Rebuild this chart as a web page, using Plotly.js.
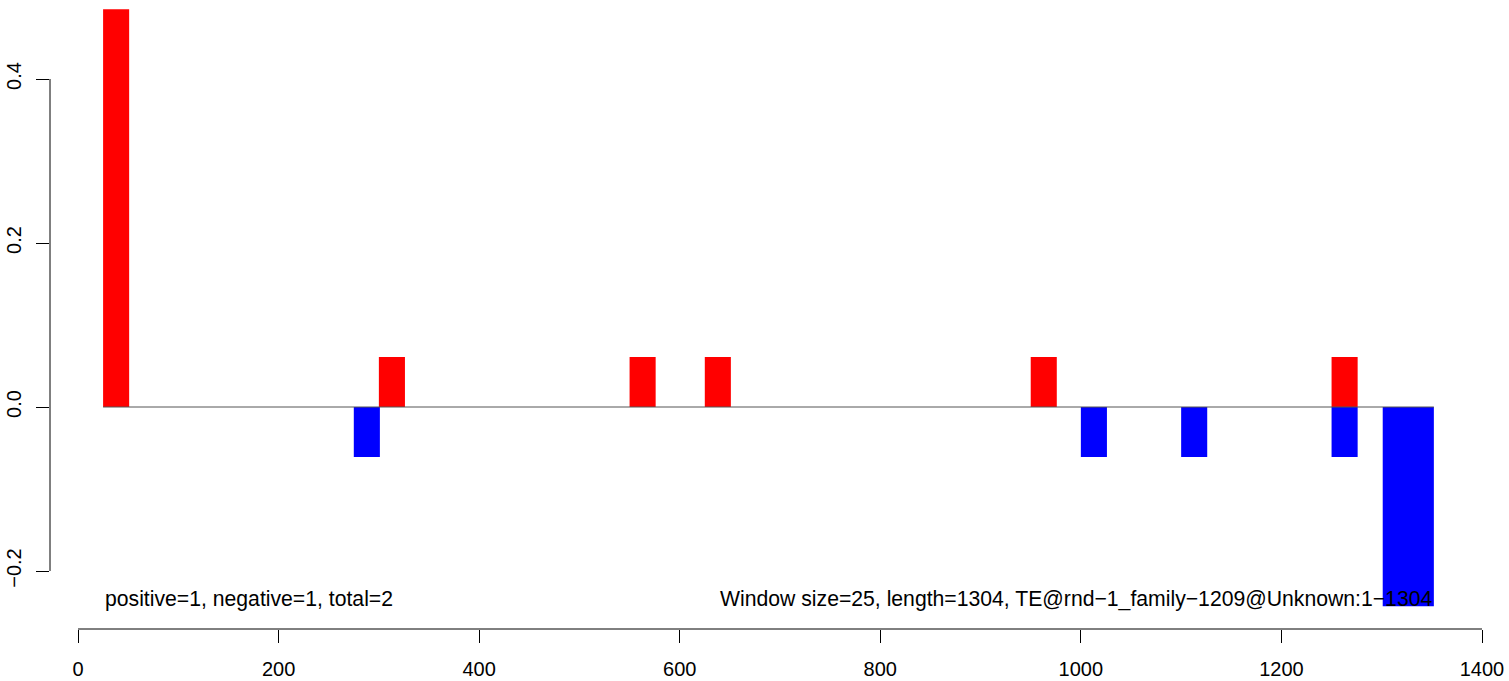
<!DOCTYPE html>
<html><head><meta charset="utf-8">
<script src="https://cdn.plot.ly/plotly-3.0.1.min.js"></script>
<style>body{margin:0;background:#fff}#chart{width:1509px;height:681px}</style>
</head><body><div id="chart"></div>
<script>
// window starts, drawn widths and values
const posStart = [25, 300, 550, 625, 950, 1250];
const posWidth = [26, 26, 26, 26, 26, 26];
const posValue = [0.485, 0.061, 0.061, 0.061, 0.061, 0.061];
const negStart = [275, 1000, 1100, 1250, 1301];
const negWidth = [26, 26, 26, 26, 51];
const negValue = [-0.061, -0.061, -0.061, -0.061, -0.243];
const baseLineX = [25, 1352];
const baseLineY = [0, 0];
const xTicks = [0, 200, 400, 600, 800, 1000, 1200, 1400];
const yTicks = [-0.2, 0, 0.2, 0.4];
const yTickText = ['\u22120.2', '0.0', '0.2', '0.4'];
const leftNote = 'positive=1, negative=1, total=2';
const rightNote = 'Window size=25, length=1304, TE@rnd\u22121_family\u22121209@Unknown:1\u22121304';

const center = (s, w) => s.map((v, i) => v + w[i] / 2);
const tickFont = {family: 'Liberation Sans, Arial, sans-serif', size: 20, color: '#000'};
const noteFont = {family: 'Liberation Sans, Arial, sans-serif', size: 21.2, color: '#000'};

const traces = [
  {type: 'scatter', mode: 'lines', x: baseLineX, y: baseLineY, line: {color: '#555555', width: 1}, hoverinfo: 'skip'},
  {type: 'bar', x: center(posStart, posWidth), y: posValue, width: posWidth, marker: {color: '#ff0000', line: {width: 0}}},
  {type: 'bar', x: center(negStart, negWidth), y: negValue, width: negWidth, marker: {color: '#0000ff', line: {width: 0}}}
];

const layout = {
  width: 1509, height: 681,
  margin: {l: 50, r: 20, t: 5, b: 52},
  paper_bgcolor: '#fff', plot_bgcolor: '#fff',
  showlegend: false, barmode: 'overlay', font: tickFont,
  xaxis: {range: [-27.94, 1406.98], tickvals: xTicks, ticktext: xTicks.map(String),
    ticks: 'outside', ticklen: 13, tickwidth: 1, tickcolor: '#000', showline: false,
    showgrid: false, zeroline: false, tickfont: tickFont, ticklabelstandoff: 9},
  yaxis: {range: [-0.27073, 0.49024], tickvals: yTicks, ticktext: yTickText,
    ticks: 'outside', ticklen: 13, tickwidth: 1, tickcolor: '#000', showline: false,
    showgrid: false, zeroline: false, tickangle: -90, tickfont: tickFont, ticklabelstandoff: 7},
  shapes: [
    {type: 'line', xref: 'x', yref: 'paper', x0: 0, x1: 1400, y0: 0, y1: 0, line: {color: '#000', width: 1}},
    {type: 'line', xref: 'paper', yref: 'y', x0: 0, x1: 0, y0: -0.2, y1: 0.4, line: {color: '#000', width: 1}}
  ],
  annotations: [
    {x: 25, y: -0.234, xref: 'x', yref: 'y', text: leftNote, showarrow: false, xanchor: 'left', yanchor: 'middle', font: noteFont},
    {x: 1352, y: -0.234, xref: 'x', yref: 'y', text: rightNote, showarrow: false, xanchor: 'right', yanchor: 'middle', font: noteFont}
  ]
};
Plotly.newPlot('chart', traces, layout, {displayModeBar: false, staticPlot: true});
</script></body></html>
